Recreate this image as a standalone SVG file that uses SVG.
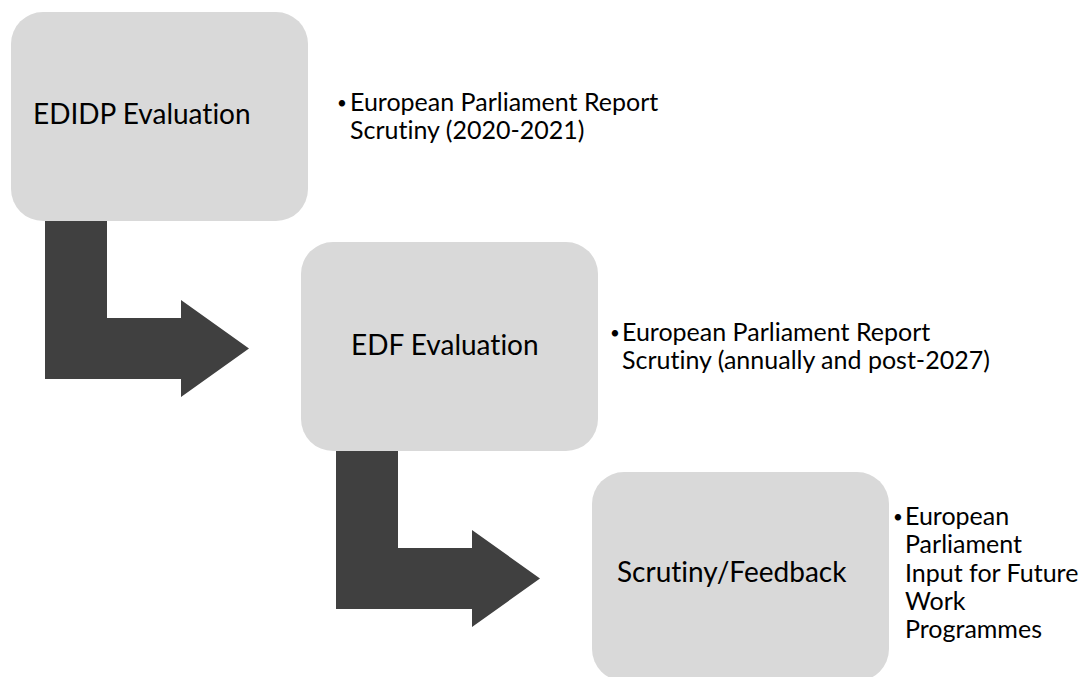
<svg xmlns="http://www.w3.org/2000/svg" width="1089" height="677" viewBox="0 0 1089 677">
<style>
text{font-family:Lato,"Open Sans","Liberation Sans",sans-serif;fill:#000;font-variant-ligatures:none;font-feature-settings:"liga" 0,"clig" 0}
.box{fill:#d9d9d9}
.arrow{fill:#404040}
.lbl{font-size:28px}
.bul{font-size:25px}
.dot{font-size:17px}
</style>
<rect width="1089" height="677" fill="#ffffff"/>
<g id="connectors">
<path class="arrow" d="M45,221 L107,221 L107,318 L181,318 L181,300 L249,348.5 L181,397 L181,379 L45,379 Z"/>
<path class="arrow" d="M336,451 L398,451 L398,548 L472,548 L472,530 L540,578.5 L472,627 L472,609 L336,609 Z"/>
</g>
<g id="node-edidp">
<rect class="box" x="11" y="12" width="297" height="209" rx="32" ry="32"/>
<text class="lbl" x="33" y="124">EDIDP Evaluation</text>
</g>
<g id="note-edidp">
<text class="dot" x="337" y="109">•</text>
<text class="bul" x="350" y="111">European Parliament Report</text>
<text class="bul" x="350" y="139">Scrutiny (2020-2021)</text>
</g>
<g id="node-edf">
<rect class="box" x="301" y="242" width="297" height="209" rx="32" ry="32"/>
<text class="lbl" x="351" y="355">EDF Evaluation</text>
</g>
<g id="note-edf">
<text class="dot" x="610" y="339">•</text>
<text class="bul" x="622" y="341">European Parliament Report</text>
<text class="bul" x="622" y="369">Scrutiny (annually and post-2027)</text>
</g>
<g id="node-scrutiny">
<rect class="box" x="592" y="472" width="297" height="209" rx="32" ry="32"/>
<text class="lbl" x="617" y="582">Scrutiny/Feedback</text>
</g>
<g id="note-scrutiny">
<text class="dot" x="893" y="523">•</text>
<text class="bul" x="905" y="525">European</text>
<text class="bul" x="905" y="553">Parliament</text>
<text class="bul" x="905" y="582">Input for Future</text>
<text class="bul" x="905" y="610">Work</text>
<text class="bul" x="905" y="638">Programmes</text>
</g>
</svg>
